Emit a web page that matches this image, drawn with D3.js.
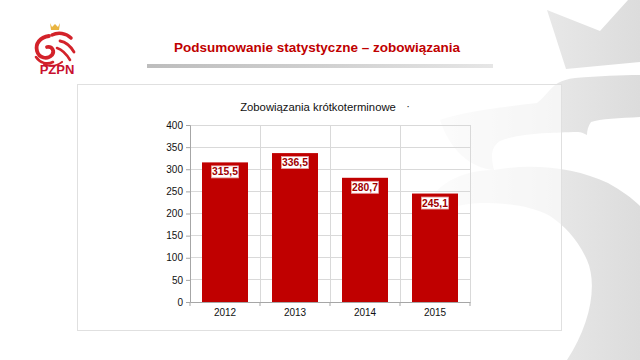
<!DOCTYPE html>
<html><head><meta charset="utf-8">
<script src="https://cdn.jsdelivr.net/npm/d3@7"></script>
<style>html,body{margin:0;padding:0;background:#fff;}svg{display:block;font-family:"Liberation Sans",Arial,sans-serif;}</style>
</head><body>
<script>
const categories = ["2012","2013","2014","2015"];
const values = [315.5, 336.5, 280.7, 245.1];
const valueLabels = ["315,5","336,5","280,7","245,1"];
const yTicks = [0,50,100,150,200,250,300,350,400];
const slideTitle = "Podsumowanie statystyczne \u2013 zobowiązania";
const chartTitle = "Zobowiązania krótkoterminowe";

const W=640,H=360;
const svg=d3.select("body").append("svg").attr("width",W).attr("height",H);
const defs=svg.append("defs");
const g1=defs.append("linearGradient").attr("id","wm").attr("gradientUnits","userSpaceOnUse")
  .attr("x1",420).attr("x2",640).attr("y1",0).attr("y2",0);
g1.append("stop").attr("offset","0").attr("stop-color","#f8f8f8");
g1.append("stop").attr("offset","1").attr("stop-color","#dcdcdc");
const g2=defs.append("linearGradient").attr("id","bar").attr("x1","0").attr("x2","1");
g2.append("stop").attr("offset","0").attr("stop-color","#bdbdbd");
g2.append("stop").attr("offset","0.5").attr("stop-color","#d0d0d0");
g2.append("stop").attr("offset","1").attr("stop-color","#e6e6e6");

// watermark
const wm=svg.append("g").attr("fill","url(#wm)");
wm.append("path").attr("d","M547,10 L600,31 L628,0 L640,0 L640,62 L566,69 Z");
wm.append("path").attr("d","M440,120 C460,112 510,106 537,103 C542,99 545,95 548,92 C555,84 560,80 575,78 C600,76 620,75 640,75 L640,117 C620,118 600,119 591,122 C588,126 587,131 587,135 C583,133 581,132 578,132 C565,132 555,133 547,133 C530,134 512,136 500,141 C494,145 492,150 492,156 C492,162 493,166 494,170 C470,168 450,150 440,120 Z");
wm.append("path").attr("d","M420,225 C425,190 455,170 494,170 C530,163 575,167 608,183 C622,191 632,198 640,206 L640,360 L567,360 C590,325 598,285 587,260 C578,240 565,226 550,216 C530,205 505,203 480,203 C455,204 435,212 420,225 Z");

// slide title
svg.append("text").attr("x",317).attr("y",52).attr("text-anchor","middle")
  .attr("font-size",13.5).attr("font-weight","bold").attr("fill","#c00000").text(slideTitle);
svg.append("rect").attr("x",147).attr("y",64).attr("width",346).attr("height",4).attr("fill","url(#bar)");

// logo
const logo=svg.append("g").attr("fill","none").attr("stroke","#d3222a").attr("stroke-linecap","round");
logo.append("path").attr("d","M50,23 L52,27 L55,24 L58,27 L60,23 L59,30 L51,30 Z").attr("fill","#e9b43f").attr("stroke","none");
logo.append("path").attr("d","M52,35 C58,32 66,33 71,38").attr("stroke-width",3.5);
logo.append("path").attr("d","M49,36 C40,37 35,44 37,51 C39,58 47,60 52,55 C55,51 52,46 47,47").attr("stroke-width",3.8);
logo.append("path").attr("d","M60,41 C66,42 71,47 74,52").attr("stroke-width",2.8);
logo.append("path").attr("d","M57,48 C63,50 67,55 70,60").attr("stroke-width",2.6);
logo.append("path").attr("d","M36,57 C40,63 47,65 53,62").attr("stroke-width",2.6);
logo.append("path").attr("d","M44,64 C50,67 57,66 62,62").attr("stroke-width",2.2);
svg.append("text").attr("x",57).attr("y",74).attr("text-anchor","middle").attr("font-size",13)
  .attr("font-weight","bold").attr("fill","#c8102e").text("PZPN");

// chart box
svg.append("rect").attr("x",77.5).attr("y",84.5).attr("width",484).attr("height",246)
  .attr("fill","#ffffff").attr("fill-opacity",0.6).attr("stroke","#e0e0e0");

// chart title
svg.append("text").attr("x",318).attr("y",111).attr("text-anchor","middle").attr("font-size",11.3)
  .attr("fill","#111").text(chartTitle);
svg.append("text").attr("x",408).attr("y",110).attr("text-anchor","middle").attr("font-size",11).attr("fill","#222").text("·");

const x=d3.scaleBand().domain(categories).range([190,470]).paddingInner(0.343).paddingOuter(0.1715);
const y=d3.scaleLinear().domain([0,400]).range([302,125]);

const grid=svg.append("g").attr("stroke","#d9d9d9").attr("stroke-width",1).attr("shape-rendering","crispEdges");
yTicks.filter(t=>t>0).forEach(t=>grid.append("line").attr("x1",190).attr("x2",470).attr("y1",y(t)).attr("y2",y(t)));
const bounds=categories.map(c=>x(c)-x.step()*x.paddingInner()/2).concat([470]);
bounds.slice(1).forEach(b=>grid.append("line").attr("x1",b).attr("x2",b).attr("y1",y(400)).attr("y2",y(0)));

svg.append("g").selectAll("rect").data(values).join("rect")
  .attr("x",(d,i)=>x(categories[i])).attr("width",x.bandwidth())
  .attr("y",d=>y(d)).attr("height",d=>y(0)-y(d)).attr("fill","#c00000");

const yAxis=svg.append("g").attr("transform","translate(190,0)")
  .call(d3.axisLeft(y).tickValues(yTicks).tickSize(4).tickPadding(3).tickFormat(d3.format("d")));
yAxis.select(".domain").attr("stroke","#a6a6a6");
yAxis.selectAll(".tick line").attr("stroke","#a6a6a6");
yAxis.selectAll("text").attr("font-size",10).attr("fill","#111").attr("font-family","Liberation Sans, Arial, sans-serif");

const xAxis=svg.append("g").attr("transform","translate(0,302)")
  .call(d3.axisBottom(x).tickSize(0).tickPadding(7));
xAxis.select(".domain").attr("stroke","#a6a6a6");
xAxis.selectAll("text").attr("font-size",10).attr("fill","#111").attr("font-family","Liberation Sans, Arial, sans-serif");
const xt=svg.append("g").attr("stroke","#a6a6a6");
bounds.forEach(b=>xt.append("line").attr("x1",b).attr("x2",b).attr("y1",302).attr("y2",306));

// value labels
const lab=svg.append("g");
values.forEach((v,i)=>{
  const cx=x(categories[i])+x.bandwidth()/2, ty=y(v)+9;
  lab.append("rect").attr("x",cx-13.5).attr("y",ty-5.5).attr("width",27).attr("height",12)
    .attr("fill","#fff").attr("stroke","#e6a0a0").attr("stroke-width",0.8);
  lab.append("text").attr("x",cx).attr("y",ty+4).attr("text-anchor","middle").attr("font-size",10.3)
    .attr("font-weight","bold").attr("fill","#a00000").text(valueLabels[i]);
});
</script>
</body></html>
